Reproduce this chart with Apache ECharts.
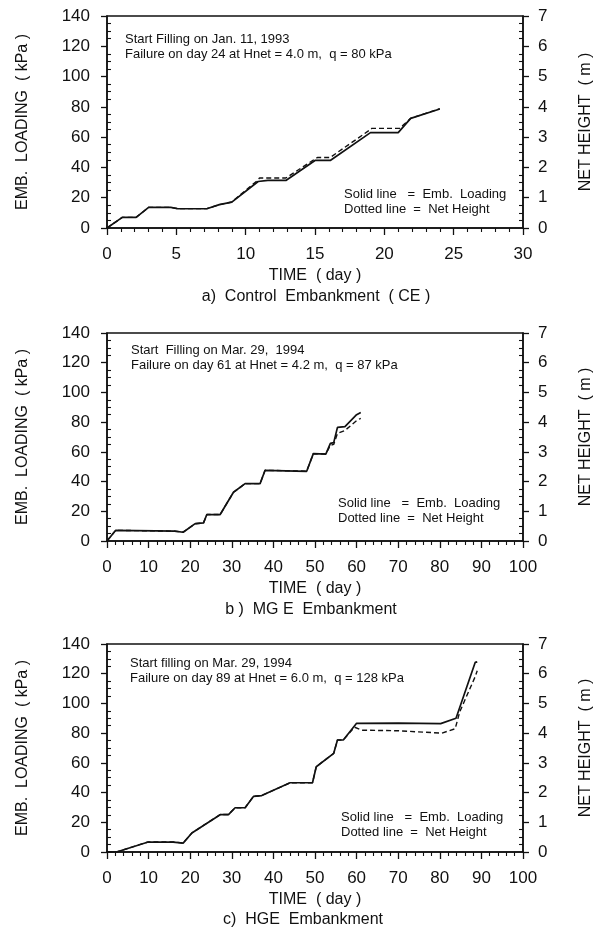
<!DOCTYPE html>
<html>
<head>
<meta charset="utf-8">
<script src="https://cdn.jsdelivr.net/npm/echarts@6/dist/echarts.min.js"></script>
<style>
html,body{margin:0;padding:0;background:#fff;}
#chart{width:602px;height:934px;}
</style>
</head>
<body>
<div id="chart"></div>
<script>
// ---------- data ----------
// Panel a: Control Embankment (CE)
var aLoadDays = [0, 1.1, 2.1, 3.0, 4.6, 5.1, 7.2, 8.1, 9.0, 10.9, 11.6, 12.9, 15.0, 16.1, 19.0, 21.0, 21.9, 24.0];
var aLoadKPa  = [0, 7.0, 7.0, 13.6, 13.6, 12.7, 12.7, 15.4, 17.1, 30.7, 31.5, 31.4, 44.6, 44.6, 63.0, 63.0, 72.4, 78.6];
var aHgtDays  = [0, 1.1, 2.1, 3.0, 4.6, 5.1, 7.2, 8.1, 9.0, 10.8, 11.0, 12.9, 15.0, 15.2, 16.1, 18.9, 19.1, 21.1, 21.9, 24.0];
var aHgtM     = [0, 0.35, 0.35, 0.68, 0.68, 0.64, 0.64, 0.77, 0.86, 1.55, 1.65, 1.65, 2.28, 2.33, 2.33, 3.22, 3.29, 3.29, 3.62, 3.94];

// Panel b: MGE Embankment
var bLoadDays = [0, 2.1, 16.3, 18.3, 21.2, 23.2, 24, 27.2, 30.4, 33.2, 36.8, 38, 48, 49.6, 52.6, 53.7, 54.5, 55.4, 57.2, 60, 61];
var bLoadKPa  = [0, 7.2, 6.6, 5.9, 11.7, 12.2, 17.8, 17.8, 32.8, 38.6, 38.6, 47.6, 46.9, 58.8, 58.5, 65.7, 66.2, 76.5, 77, 85, 86.5];
var bHgtDays  = [0, 2.1, 16.3, 18.3, 21.2, 23.2, 24, 27.2, 30.4, 33.2, 36.8, 38, 48, 49.6, 52.6, 53.7, 54.5, 55.4, 57.2, 60, 61];
var bHgtM     = [0, 0.36, 0.33, 0.30, 0.58, 0.61, 0.89, 0.89, 1.64, 1.93, 1.93, 2.38, 2.35, 2.94, 2.93, 3.22, 3.25, 3.62, 3.72, 4.05, 4.13];

// Panel c: HGE Embankment
var cLoadDays = [0, 2.3, 9.9, 15.9, 18.3, 20.4, 27.2, 29.2, 30.8, 33.2, 35.2, 37.2, 44, 49.4, 50.3, 54.5, 55.4, 56.8, 60, 70, 80.2, 83.9, 88.5, 89];
var cLoadKPa  = [0, 0, 6.7, 6.7, 6.0, 12.8, 25.1, 25.1, 29.8, 29.8, 37.4, 38, 46.6, 46.6, 57.4, 66.4, 75.4, 75.4, 86.6, 86.8, 86.4, 90, 127.6, 128];
var cHgtDays  = [0, 2.3, 9.9, 15.9, 18.3, 20.4, 27.2, 29.2, 30.8, 33.2, 35.2, 37.2, 44, 49.4, 50.3, 54.5, 55.4, 56.8, 59.5, 61.2, 70, 80.5, 83.7, 84.8, 88.5, 89];
var cHgtM     = [0, 0, 0.34, 0.34, 0.30, 0.64, 1.26, 1.26, 1.49, 1.49, 1.87, 1.90, 2.33, 2.33, 2.87, 3.32, 3.77, 3.77, 4.20, 4.10, 4.08, 4.00, 4.15, 4.72, 5.90, 6.10];

// axis ranges / ticks
var xMaxA = 30, xStepA = 5;
var xMaxBC = 100, xStepBC = 10;
var loadMax = 140, loadStep = 20;
var hgtMax = 7, hgtStep = 1;

// texts
var noteA = ['Start Filling on Jan. 11, 1993', 'Failure on day 24 at Hnet = 4.0 m,  q = 80 kPa'];
var noteB = ['Start  Filling on Mar. 29,  1994', 'Failure on day 61 at Hnet = 4.2 m,  q = 87 kPa'];
var noteC = ['Start filling on Mar. 29, 1994', 'Failure on day 89 at Hnet = 6.0 m,  q = 128 kPa'];
var legendLines = ['Solid line   =  Emb.  Loading', 'Dotted line  =  Net Height'];
var captions = ['a)  Control  Embankment  ( CE )', 'b )  MG E  Embankment', 'c)  HGE  Embankment'];
var xName = 'TIME  ( day )';
var yLeftName = 'EMB.  LOADING  ( kPa )';
var yRightName = 'NET HEIGHT  ( m )';

function pairs(xs, ys){ return xs.map(function(x,i){ return [x, ys[i]]; }); }

var FONT = '"Liberation Sans", Arial, sans-serif';
var BLACK = '#111';

// ---------- layout ----------
var grids = [
  {left:107, top:16, width:416, height:212},
  {left:107, top:333, width:416, height:208},
  {left:107, top:644, width:416, height:208}
];

function xAxisFor(i, max, step){
  return {
    type:'value', gridIndex:i, min:0, max:max, interval:step,
    name:xName, nameLocation:'middle', nameGap:40,
    nameTextStyle:{fontFamily:FONT, fontSize:16, color:BLACK},
    axisLine:{onZero:false, lineStyle:{color:BLACK, width:1.5}},
    axisTick:{show:true, length:7, lineStyle:{color:BLACK, width:1.3}},
    minorTick:{show:true, splitNumber:5, length:4, lineStyle:{color:BLACK, width:1.1}},
    axisLabel:{fontFamily:FONT, fontSize:17, color:BLACK, margin:18},
    splitLine:{show:false}, minorSplitLine:{show:false}
  };
}
function yLeftFor(i){
  return {
    type:'value', gridIndex:i, position:'left', min:0, max:loadMax, interval:loadStep,
    name:yLeftName, nameLocation:'middle', nameRotate:90, nameGap:76,
    nameTextStyle:{fontFamily:FONT, fontSize:16, color:BLACK},
    axisLine:{show:true, onZero:false, lineStyle:{color:BLACK, width:1.5}},
    axisTick:{show:true, length:6, lineStyle:{color:BLACK, width:1.3}},
    minorTick:{show:true, splitNumber:4, length:-4, lineStyle:{color:BLACK, width:1.1}},
    axisLabel:{fontFamily:FONT, fontSize:17, color:BLACK, margin:17},
    splitLine:{show:false}, minorSplitLine:{show:false}
  };
}
function yRightFor(i){
  return {
    type:'value', gridIndex:i, position:'right', min:0, max:hgtMax, interval:hgtStep,
    name:yRightName, nameLocation:'middle', nameRotate:90, nameGap:55,
    nameTextStyle:{fontFamily:FONT, fontSize:16, color:BLACK},
    axisLine:{show:true, onZero:false, lineStyle:{color:BLACK, width:1.5}},
    axisTick:{show:true, length:6, lineStyle:{color:BLACK, width:1.3}},
    minorTick:{show:true, splitNumber:4, length:-4, lineStyle:{color:BLACK, width:1.1}},
    axisLabel:{fontFamily:FONT, fontSize:17, color:BLACK, margin:15},
    splitLine:{show:false}, minorSplitLine:{show:false}
  };
}

function solid(i, data){
  return {type:'line', xAxisIndex:i, yAxisIndex:2*i, data:data, showSymbol:false, symbol:'none',
    lineStyle:{color:BLACK, width:1.7}, z:3, animation:false};
}
function dashed(i, data){
  return {type:'line', xAxisIndex:i, yAxisIndex:2*i+1, data:data, showSymbol:false, symbol:'none',
    lineStyle:{color:BLACK, width:1.4, type:[5,3]}, z:2, animation:false};
}

function txt(x, y, s, size, align){
  return {type:'text', left:x, top:y, style:{text:s, font:size+'px '+FONT, fill:BLACK, textAlign:align||'left', textVerticalAlign:'middle'}};
}
function ctext(x, y, s, size){
  return {type:'text', x:x, y:y, style:{text:s, font:size+'px '+FONT, fill:BLACK, textAlign:'center', textVerticalAlign:'middle'}};
}
function lines(x, y1, y2, arr, size){
  return [
    {type:'text', x:x, y:y1, style:{text:arr[0], font:size+'px '+FONT, fill:BLACK, textAlign:'left', textVerticalAlign:'middle'}},
    {type:'text', x:x, y:y2, style:{text:arr[1], font:size+'px '+FONT, fill:BLACK, textAlign:'left', textVerticalAlign:'middle'}}
  ];
}

var graphics = []
  .concat(lines(125, 39, 54, noteA, 13))
  .concat(lines(131, 350, 365, noteB, 13))
  .concat(lines(130, 663, 678, noteC, 13))
  .concat(lines(344, 194, 209, legendLines, 13))
  .concat(lines(338, 503, 518, legendLines, 13))
  .concat(lines(341, 817, 832, legendLines, 13))
  .concat([ctext(316, 297, captions[0], 16), ctext(311, 610, captions[1], 16), ctext(303, 920, captions[2], 16)]);

var option = {
  backgroundColor:'#fff',
  animation:false,
  grid: grids.map(function(g){ return Object.assign({show:true, borderColor:BLACK, borderWidth:1.5, backgroundColor:'transparent'}, g); }),
  xAxis:[xAxisFor(0, xMaxA, xStepA), xAxisFor(1, xMaxBC, xStepBC), xAxisFor(2, xMaxBC, xStepBC)],
  yAxis:[yLeftFor(0), yRightFor(0), yLeftFor(1), yRightFor(1), yLeftFor(2), yRightFor(2)],
  series:[
    dashed(0, pairs(aHgtDays, aHgtM)), solid(0, pairs(aLoadDays, aLoadKPa)),
    dashed(1, pairs(bHgtDays, bHgtM)), solid(1, pairs(bLoadDays, bLoadKPa)),
    dashed(2, pairs(cHgtDays, cHgtM)), solid(2, pairs(cLoadDays, cLoadKPa))
  ],
  graphic: graphics
};

var chart = echarts.init(document.getElementById('chart'), null, {renderer:'canvas'});
chart.setOption(option);
</script>
</body>
</html>
